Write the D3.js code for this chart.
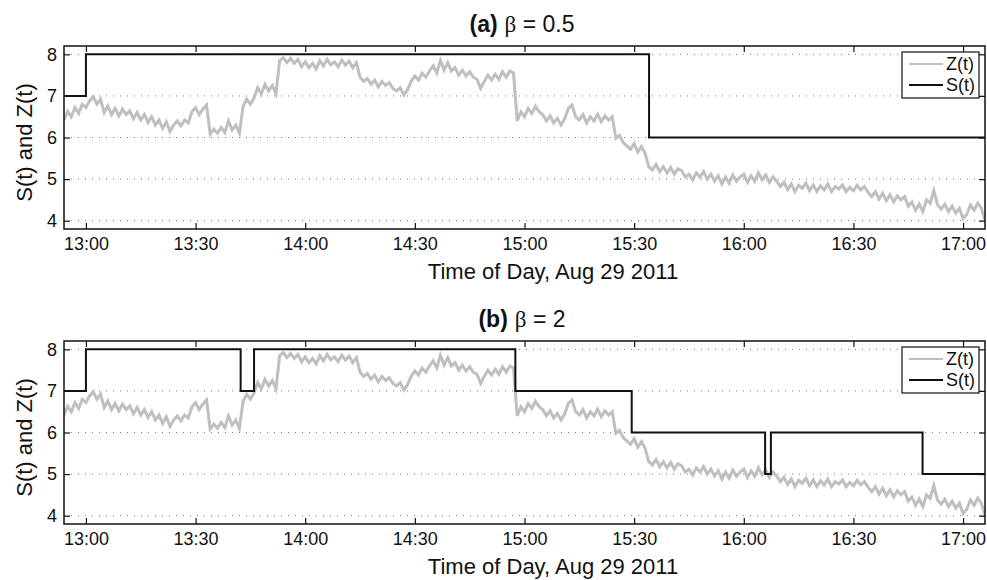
<!DOCTYPE html>
<html>
<head>
<meta charset="utf-8">
<script src="https://cdn.jsdelivr.net/npm/d3@7"></script>
<style>
body { margin: 0; background: #fff; }
svg text { font-family: 'Liberation Sans', Arial, Helvetica, sans-serif; fill: #111; }
</style>
</head>
<body>
<div id="chart"></div>
<script>
// Z(t): one reading per minute, starting at 12:54
const zStart = '12:54';
const zValues = [
    6.42, 6.63, 6.50, 6.72, 6.58, 6.80, 6.72,
    6.88, 6.98, 6.80, 6.92, 6.60, 6.76, 6.55, 6.70, 6.52, 6.68,
    6.55, 6.64, 6.45, 6.60, 6.42, 6.55, 6.36, 6.50, 6.30, 6.42,
    6.22, 6.38, 6.15, 6.30, 6.40, 6.28, 6.42, 6.35, 6.62, 6.72,
    6.55, 6.68, 6.78, 6.08, 6.20, 6.10, 6.24, 6.12, 6.40, 6.18,
    6.30, 6.10, 6.75, 6.92, 6.80, 6.95, 7.20, 7.05, 7.28, 7.12,
    7.25, 7.05, 7.85, 7.92, 7.80, 7.90, 7.78, 7.88, 7.70, 7.82,
    7.68, 7.78, 7.65, 7.85, 7.72, 7.88, 7.75, 7.82, 7.70, 7.86,
    7.74, 7.84, 7.68, 7.80, 7.45, 7.35, 7.42, 7.28, 7.38, 7.22,
    7.35, 7.25, 7.32, 7.18, 7.12, 7.20, 7.02, 7.15, 7.35, 7.48,
    7.38, 7.55, 7.45, 7.60, 7.72, 7.55, 7.85, 7.62, 7.80, 7.60,
    7.68, 7.50, 7.62, 7.48, 7.58, 7.45, 7.40, 7.18, 7.35, 7.50,
    7.38, 7.52, 7.40, 7.58, 7.45, 7.60, 7.55, 6.40, 6.62, 6.50,
    6.70, 6.58, 6.75, 6.62, 6.55, 6.40, 6.52, 6.35, 6.46, 6.30,
    6.45, 6.70, 6.78, 6.50, 6.42, 6.55, 6.35, 6.50, 6.40, 6.56,
    6.38, 6.52, 6.42, 6.50, 5.98, 6.05, 5.88, 5.80, 5.72, 5.85,
    5.65, 5.78, 5.62, 5.30, 5.22, 5.35, 5.18, 5.30, 5.15, 5.28,
    5.12, 5.25, 5.20, 5.05, 5.12, 4.98, 5.15, 5.05, 5.18, 5.00,
    5.12, 4.95, 5.08, 4.88, 5.05, 4.90, 5.10, 4.95, 5.05, 5.12,
    4.92, 5.08, 4.95, 5.15, 4.98, 5.10, 4.92, 5.05, 4.95, 4.82,
    4.92, 4.75, 4.88, 4.70, 4.85, 4.78, 4.90, 4.72, 4.86, 4.70,
    4.84, 4.74, 4.88, 4.70, 4.82, 4.76, 4.86, 4.70, 4.80, 4.72,
    4.85, 4.74, 4.82, 4.68, 4.58, 4.70, 4.52, 4.66, 4.48, 4.62,
    4.45, 4.60, 4.50, 4.58, 4.35, 4.45, 4.25, 4.40, 4.22, 4.50,
    4.42, 4.72, 4.38, 4.28, 4.40, 4.22, 4.35, 4.18, 4.30, 4.05,
    4.15, 4.38, 4.25, 4.42, 4.30, 4.00
];

// S(t) step changes
const sTimesA = ['12:54:00', '13:00:00', '15:34:05', '17:06:00'];
const sValuesA = [7, 8, 6, 6];
const sTimesB = ['12:54:00', '13:00:00', '13:42:20', '13:46:00', '14:57:30',
    '15:29:20', '16:05:50', '16:07:25', '16:48:55', '17:06:00'];
const sValuesB = [7, 8, 7, 8, 7, 6, 5, 6, 5, 5];

const xDomain = ['12:54:00', '17:06:00'];
const xTicks = ['13:00', '13:30', '14:00', '14:30', '15:00', '15:30', '16:00', '16:30', '17:00'];
const yDomain = [3.8, 8.2];
const yTicks = [4, 5, 6, 7, 8];
const titles = [['(a)', 'β', ' = 0.5'], ['(b)', 'β', ' = 2']];
const legendLabels = ['Z(t)', 'S(t)'];
const xLabel = 'Time of Day, Aug 29 2011';
const yLabel = 'S(t) and Z(t)';

const width = 987;
const height = 580;
const left = 64;
const plotW = 921;
const plotH = 183;
const panelTops = [46, 341];
const grey = '#bfbfbf';

const parseHM = d3.timeParse('%H:%M');
const parseHMS = d3.timeParse('%H:%M:%S');

const t0 = parseHM(zStart);
const zData = zValues.map((v, i) => ({ t: d3.timeMinute.offset(t0, i), v: v }));
const sDataA = sTimesA.map((t, i) => ({ t: parseHMS(t), v: sValuesA[i] }));
const sDataB = sTimesB.map((t, i) => ({ t: parseHMS(t), v: sValuesB[i] }));

const x = d3.scaleTime().domain(xDomain.map(parseHMS)).range([0, plotW]);
const y = d3.scaleLinear().domain(yDomain).range([plotH, 0]);

const svg = d3.select('#chart')
    .append('svg')
    .attr('width', width)
    .attr('height', height);

svg.append('rect').attr('width', width).attr('height', height).attr('fill', '#fff');

const zLine = d3.line().x(d => x(d.t)).y(d => y(d.v));
const sLine = d3.line().x(d => x(d.t)).y(d => y(d.v)).curve(d3.curveStepAfter);

function drawPanel(idx, sData) {
    const g = svg.append('g')
        .attr('transform', 'translate(' + left + ',' + panelTops[idx] + ')');

    g.append('clipPath')
        .attr('id', 'clip' + idx)
        .append('rect')
        .attr('width', plotW)
        .attr('height', plotH);

    // dotted horizontal grid
    g.selectAll('.grid')
        .data(yTicks)
        .enter()
        .append('line')
        .attr('x1', 0)
        .attr('x2', plotW)
        .attr('y1', d => y(d))
        .attr('y2', d => y(d))
        .attr('stroke', '#777')
        .attr('stroke-width', 1)
        .attr('stroke-dasharray', '1,6');

    const lines = g.append('g').attr('clip-path', 'url(#clip' + idx + ')');
    lines.append('path')
        .datum(zData)
        .attr('d', zLine)
        .attr('fill', 'none')
        .attr('stroke', grey)
        .attr('stroke-width', 3)
        .attr('stroke-linejoin', 'miter');
    lines.append('path')
        .datum(sData)
        .attr('d', sLine)
        .attr('fill', 'none')
        .attr('stroke', '#111')
        .attr('stroke-width', 2);

    // axes: inward ticks on all four sides
    const xt = xTicks.map(parseHM);
    g.append('g')
        .attr('transform', 'translate(0,' + plotH + ')')
        .call(d3.axisBottom(x).tickValues(xt).tickSize(-6).tickPadding(8).tickFormat(d3.timeFormat('%H:%M')))
        .call(a => a.select('.domain').remove())
        .selectAll('text')
        .attr('font-size', 18)
        .attr('dy', '0.71em');
    g.append('g')
        .call(d3.axisTop(x).tickValues(xt).tickSize(-6).tickFormat(''))
        .call(a => a.select('.domain').remove());
    g.append('g')
        .call(d3.axisLeft(y).tickValues(yTicks).tickSize(-6).tickPadding(7).tickFormat(d3.format('d')))
        .call(a => a.select('.domain').remove())
        .selectAll('text')
        .attr('font-size', 18);
    g.append('g')
        .attr('transform', 'translate(' + plotW + ',0)')
        .call(d3.axisRight(y).tickValues(yTicks).tickSize(-6).tickFormat(''))
        .call(a => a.select('.domain').remove());
    g.selectAll('.tick line').attr('stroke', '#111').attr('stroke-width', 1.2);
    g.selectAll('.tick text').attr('fill', '#111').attr('font-family', "'Liberation Sans', Arial, sans-serif");

    g.append('rect')
        .attr('width', plotW)
        .attr('height', plotH)
        .attr('fill', 'none')
        .attr('stroke', '#111')
        .attr('stroke-width', 1.5);

    // title
    const title = g.append('text')
        .attr('x', 458)
        .attr('y', -14)
        .attr('text-anchor', 'middle')
        .attr('font-size', 23);
    title.append('tspan').attr('font-weight', 'bold').text(titles[idx][0]);
    title.append('tspan').attr('dx', 7).attr('font-family', "'Liberation Serif', serif").text(titles[idx][1]);
    title.append('tspan').text(titles[idx][2]);

    // axis labels
    g.append('text')
        .attr('x', 489)
        .attr('y', plotH + 50)
        .attr('text-anchor', 'middle')
        .attr('font-size', 22)
        .text(xLabel);
    g.append('text')
        .attr('transform', 'translate(' + (32 - left) + ',' + (plotH / 2 + 5) + ') rotate(-90)')
        .attr('text-anchor', 'middle')
        .attr('font-size', 22)
        .text(yLabel);

    // legend
    const lg = g.append('g').attr('transform', 'translate(838,6)');
    lg.append('rect')
        .attr('width', 77)
        .attr('height', 46)
        .attr('fill', '#fff')
        .attr('stroke', '#111')
        .attr('stroke-width', 1.2);
    const colors = [grey, '#111'];
    legendLabels.forEach((lab, i) => {
        lg.append('line')
            .attr('x1', 7)
            .attr('x2', 41)
            .attr('y1', 12 + i * 21)
            .attr('y2', 12 + i * 21)
            .attr('stroke', colors[i])
            .attr('stroke-width', 2);
        lg.append('text')
            .attr('x', 44)
            .attr('y', 18 + i * 21)
            .attr('font-size', 18)
            .text(lab);
    });
}

drawPanel(0, sDataA);
drawPanel(1, sDataB);
</script>
</body>
</html>
